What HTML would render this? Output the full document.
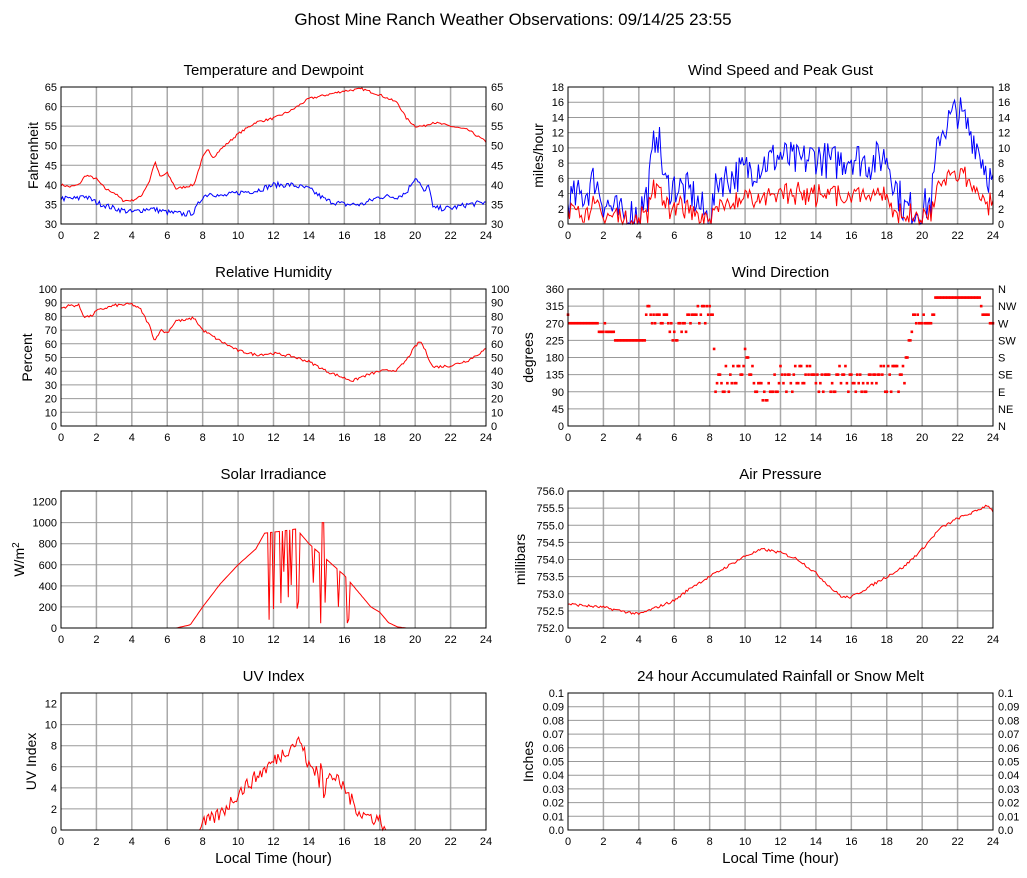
<!DOCTYPE html>
<html><head><meta charset="utf-8"><style>
body{margin:0;background:#fff;}
svg{display:block;font-family:"Liberation Sans",sans-serif;}
</style></head><body>
<svg id="s" width="1027" height="878" xmlns="http://www.w3.org/2000/svg">
<text x="513" y="25" font-size="17" text-anchor="middle">Ghost Mine Ranch Weather Observations: 09/14/25 23:55</text>
</svg>
<script>
const S=document.getElementById('s');let seed=7;
function rnd(){seed=(seed*16807)%2147483647;return seed/2147483647;}
function add(h){S.insertAdjacentHTML('beforeend',h);}
function interp(k,t){for(let i=0;i<k.length-1;i++){if(t<=k[i+1][0]){const a=k[i],b=k[i+1];return a[1]+(b[1]-a[1])*(t-a[0])/(b[0]-a[0]);}}return k[k.length-1][1];}
function series(k,n,amp,min,max){const r=[];for(let i=0;i<=n;i++){const t=24*i/n;let v=interp(k,t)+(rnd()-0.5)*2*amp;if(min!==undefined)v=Math.max(min,v);if(max!==undefined)v=Math.min(max,v);r.push([t,v]);}return r;}
function chart(o){const x0=o.x,y0=o.y,w=425,h=137;const X=t=>x0+t/24*w,Y=v=>y0+h-(v-o.min)/(o.max-o.min)*h;
let g='';
add(`<text x="${x0+w/2}" y="${y0-12}" font-size="15" text-anchor="middle">${o.title}</text>`);
for(let t=2;t<24;t+=2)g+=`<line x1="${X(t)}" x2="${X(t)}" y1="${y0}" y2="${y0+h}" stroke="#aaa" stroke-width="1.5"/>`;
o.ticks.forEach((v,i)=>{const y=Y(v);if(i>0&&i<o.ticks.length-1)g+=`<line x1="${x0}" x2="${x0+w}" y1="${y}" y2="${y}" stroke="#999"/>`;
const lab=o.labs?o.labs[i]:v;g+=`<text x="${x0-4}" y="${y+4}" font-size="11" text-anchor="end">${lab}</text>`;
if(o.rlabs)g+=`<text x="${x0+w+5}" y="${y+4}" font-size="11">${o.rlabs[i]}</text>`;});
for(let t=0;t<=24;t+=2)g+=`<text x="${X(t)}" y="${y0+h+15}" font-size="11" text-anchor="middle">${t}</text>`;
add(g);
(o.lines||[]).forEach(([d,c])=>{add(`<polyline fill="none" stroke="${c}" stroke-width="1" points="${d.map(p=>X(p[0]).toFixed(1)+','+Y(p[1]).toFixed(1)).join(' ')}"/>`);});
if(o.dots)add(o.dots.map(p=>`<rect x="${X(p[0])-1.3}" y="${Y(p[1])-1.3}" width="2.6" height="2.6" fill="red"/>`).join(''));
add(`<rect x="${x0}" y="${y0}" width="${w}" height="${h}" fill="none" stroke="#000"/>`);
add(`<text transform="translate(${o.yl[1]},${y0+h/2}) rotate(-90)" font-size="14" text-anchor="middle">${o.yl[0]}</text>`);
if(o.xlabel)add(`<text x="${x0+w/2}" y="${y0+h+33}" font-size="15" text-anchor="middle">Local Time (hour)</text>`);}
const L=61,R=568,T=[87,289,491,693];
const temp=series([[0,40],[0.5,39.5],[1,40],[1.4,42.5],[2,41.5],[2.5,39],[3,38],[3.5,36],[4,36],[4.5,37],[5,41],[5.3,46],[5.6,42],[6,43],[6.5,39],[7,39.5],[7.5,40],[8,47],[8.3,49],[8.6,47],[9,49],[10,53],[11,56],[12,57],[13,59],[14,62],[15,63],[16,64],[17,64.5],[18,63],[19,61],[19.5,57],[20,55],[20.5,55],[21,56],[22,55],[23,54],[24,51]],288,0.3);
const dew=series([[0,36.5],[1,36.5],[1.2,37.5],[2,35.5],[3,34],[4,33],[5,34],[6,33],[7,32.5],[7.5,33],[8,37],[8.5,38],[9,37],[10,38],[11,38.5],[12,40],[13,40],[14,39],[15,36],[16,35],[17,35],[18,37],[19,37],[19.5,38],[20,42],[20.2,41],[20.5,38],[20.8,40],[21,34],[22,34],[23,35],[24,35.5]],288,0.7);
const tt=[30,35,40,45,50,55,60,65];
chart({x:L,y:T[0],min:30,max:65,ticks:tt,rlabs:tt,title:'Temperature and Dewpoint',yl:['Fahrenheit',38],lines:[[temp,'red'],[dew,'blue']]});
const gk=[[0,3],[1,4],[1.5,6],[2,3],[3,1],[4,1.5],[4.5,4],[5,13],[5.5,5],[6,5],[7,4],[7.8,1],[8,0.5],[8.5,6],[9,6],[10,7],[11,8],[12,9],[13,8],[14,9],[15,8],[16,9],[17,8],[18,9],[18.5,5],[19,2],[20,2],[20.5,3],[21,12],[22,15],[23,11],[24,5]];
const gust=series(gk,288,2.5,0,18);const spd=gust.map(p=>[p[0],Math.max(0,p[1]*0.45+(rnd()-0.5)*2)]);
const wt=[0,2,4,6,8,10,12,14,16,18];
chart({x:R,y:T[0],min:0,max:18,ticks:wt,rlabs:wt,title:'Wind Speed and Peak Gust',yl:['miles/hour',543],lines:[[gust,'blue'],[spd,'red']]});
const rh=series([[0,86],[0.5,88],[1,88],[1.3,80],[1.7,80],[2,84],[3,88],[4,89],[4.5,85],[5,73],[5.3,62],[5.6,70],[6,68],[6.5,77],[7,77],[7.5,79],[8,70],[9,62],[10,55],[11,52],[12,53],[13,51],[14,47],[15,40],[16,35],[16.5,33],[17,36],[18,40],[19,41],[19.5,48],[20,58],[20.3,62],[20.5,57],[21,43],[22,44],[23,48],[24,56]],288,1);
const ht=[0,10,20,30,40,50,60,70,80,90,100];
chart({x:L,y:T[1],min:0,max:100,ticks:ht,rlabs:ht,title:'Relative Humidity',yl:['Percent',32],lines:[[rh,'red']]});
const dk=[[0,280],[2,260],[2.7,225],[4.3,225],[4.5,300],[5.5,290],[6,240],[7,290],[8.2,295],[8.3,100],[9,120],[10,170],[10.5,130],[11,80],[12,110],[13,130],[14,130],[15,110],[16,120],[17,110],[18,120],[19,130],[19.5,280],[20.5,270],[20.8,338],[23,338],[23.5,300],[24,260]];
const dots=[];for(let i=0;i<=288;i++){const t=24*i/288;let v=interp(dk,t);const q=(t>8.3&&t<19.4)?40:(t>4.3&&t<8.2?25:8);v+=(rnd()-0.5)*2*q;v=Math.round(v/22.5)*22.5;v=Math.max(0,Math.min(360,v));dots.push([t,v]);}
chart({x:R,y:T[1],min:0,max:360,ticks:[0,45,90,135,180,225,270,315,360],rlabs:['N','NE','E','SE','S','SW','W','NW','N'],title:'Wind Direction',yl:['degrees',533],dots:dots});
const sol=[];for(let i=0;i<=288;i++){const t=24*i/288;let v=interp([[0,0],[6.5,0],[7.3,30],[8,200],[9,420],[10,600],[11,750],[11.5,900],[12.5,920],[13.3,940],[14,800],[15,650],[16,500],[17,300],[17.5,200],[18,150],[18.5,50],[19,10],[19.5,0],[24,0]],t);
if(t>11.4&&t<17&&rnd()<0.2)v*=rnd()*0.6;if(t>14.5&&t<15&&rnd()<0.3)v=1000;sol.push([t,Math.max(0,v)]);}
chart({x:L,y:T[2],min:0,max:1300,ticks:[0,200,400,600,800,1000,1200],title:'Solar Irradiance',yl:['W/m<tspan dy="-5" font-size="10">2</tspan>',24],lines:[[sol,'red']]});
const pr=series([[0,752.7],[2,752.6],[3,752.5],[4,752.4],[5,752.6],[6,752.8],[7,753.2],[8,753.5],[9,753.8],[10,754.1],[11,754.3],[12,754.2],[13,754],[14,753.6],[15,753.1],[15.5,752.9],[16,752.9],[17,753.2],[18,753.5],[19,753.8],[20,754.3],[21,754.9],[22,755.2],[23,755.4],[23.7,755.6],[24,755.4]],288,0.04);
chart({x:R,y:T[2],min:752,max:756,ticks:[752,752.5,753,753.5,754,754.5,755,755.5,756],labs:['752.0','752.5','753.0','753.5','754.0','754.5','755.0','755.5','756.0'],title:'Air Pressure',yl:['millibars',525],lines:[[pr,'red']]});
const uv=[];for(let i=0;i<=288;i++){const t=24*i/288;let v=interp([[0,0],[7.8,0],[8,0.5],[9,1.5],[10,3.5],[11,5],[12,6.5],[13,8],[13.5,8.5],[14,6],[15,5.5],[16,4],[16.5,2.5],[17,1.5],[18,1],[18.3,0],[24,0]],t);if(v>0)v+=(rnd()-0.5)*1.4;if(t>14&&t<15.5&&rnd()<0.2)v-=2;uv.push([t,Math.max(0,v)]);}
chart({x:L,y:T[3],min:0,max:13,ticks:[0,2,4,6,8,10,12],title:'UV Index',yl:['UV Index',36],lines:[[uv,'red']],xlabel:1});
const rt=[0,.01,.02,.03,.04,.05,.06,.07,.08,.09,.1];const rl=['0.0','0.01','0.02','0.03','0.04','0.05','0.06','0.07','0.08','0.09','0.1'];
chart({x:R,y:T[3],min:0,max:0.1,ticks:rt,labs:rl,rlabs:rl,title:'24 hour Accumulated Rainfall or Snow Melt',yl:['Inches',533],lines:[[[[0,0],[24,0]],'red']],xlabel:1});
</script>
</body></html>
